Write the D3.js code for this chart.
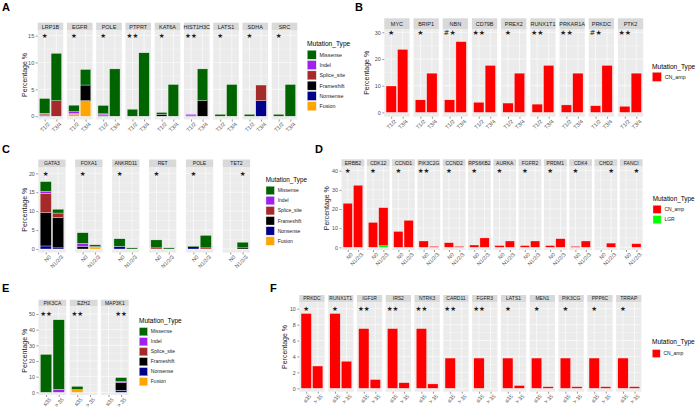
<!DOCTYPE html>
<html><head><meta charset="utf-8">
<script src="https://cdn.jsdelivr.net/npm/d3@7"></script>
<style>body{margin:0;background:#fff}svg{display:block;font-family:"Liberation Sans",Arial,sans-serif}</style>
</head><body><svg id="c" width="697" height="410"></svg>
<script>
// ---------- shared ----------
const mutTypes = ["Missense","Indel","Splice_site","Frameshift","Nonsense","Fusion"];
const mutColors = ["#006400","#A020F0","#A52A2A","#000000","#00008B","#FFA500"];
const cnTypes = ["CN_amp","LGR"];
const cnColors = ["#FF0000","#00FF00"];

// ---------- Panel A ----------
const genesA = ["LRP1B","EGFR","POLE","PTPRT","KAT6A","HIST1H3C","LATS1","SDHA","SRC"];
const groupsA = ["T1/2","T3/4"];
const starsA = ["*","*","*","**","*","**","*","*","*"];
const starPosA = [1,1,1,1,1,1,1,1,1];
const A_Missense   = [[2.75,8.8],[1.2,2.9],[1.55,8.8],[1.3,11.8],[0.35,5.9],[0,5.9],[0.35,5.9],[0.35,0],[0.35,5.9]];
const A_Indel      = [[0.15,0],[0.3,0],[0.15,0],[0,0],[0,0],[0.15,0],[0,0],[0,0],[0,0]];
const A_Splice     = [[0.25,2.9],[0.2,0],[0.1,0],[0,0],[0,0],[0,0],[0,0],[0,2.9],[0,0]];
const A_Frameshift = [[0,0],[0,2.9],[0,0],[0,0],[0.35,0],[0,2.9],[0,0],[0,0],[0,0]];
const A_Nonsense   = [[0.15,0],[0,0],[0.2,0],[0,0],[0,0],[0.2,0],[0,0],[0,2.9],[0,0]];
const A_Fusion     = [[0,0],[0.35,2.9],[0,0],[0,0],[0,0],[0,0],[0,0],[0,0],[0,0]];
const ticksA = [0,5,10,15];

// ---------- Panel B ----------
const genesB = ["MYC","BRIP1","NBN","CD79B","PREX2","RUNX1T1","PRKAR1A","PRKDC","PTK2"];
const groupsB = ["T1/2","T3/4"];
const starsB = ["*","*","#*","**","*","**","**","#*","**"];
const starPosB = [1,1,1,1,1,1,1,1,1];
const B_CNamp = [[9.9,23.6],[4.7,14.7],[4.7,26.5],[3.8,17.6],[3.5,14.7],[3.1,17.6],[2.8,14.7],[2.5,17.6],[2.3,14.7]];
const ticksB = [0,10,20,30];

// ---------- Panel C ----------
const genesC = ["GATA3","FOXA1","ANKRD11","RET","POLE","TET2"];
const groupsC = ["N0","N1/2/3"];
const starsC = ["*","*","*","*","*","*"];
const starPosC = [1,1,1,1,1,2];
const C_Missense   = [[2.6,1.0],[2.8,0.4],[2.0,0.3],[2.1,0.3],[0.2,3.3],[0,1.5]];
const C_Indel      = [[0.5,0],[0.8,0],[0,0],[0,0],[0,0],[0,0]];
const C_Splice     = [[5.1,1.2],[0,0],[0,0],[0.3,0],[0,0.3],[0,0]];
const C_Frameshift = [[8.8,8.0],[0.7,0.2],[0,0],[0,0],[0,0],[0,0.3]];
const C_Nonsense   = [[0.8,0.3],[0,0],[0.7,0],[0,0],[0.6,0],[0,0]];
const C_Fusion     = [[0,0],[0,0.5],[0,0],[0,0],[0,0],[0,0]];
const ticksC = [0,5,10,15,20];

// ---------- Panel D ----------
const genesD = ["ERBB2","CDK12","CCND1","PIK3C2G","CCND2","RPS6KB2","AURKA","FGFR2","PRDM1","CDK4","CHD2","FANCI"];
const groupsD = ["N0","N1/2/3"];
const starsD = ["*","*","*","**","*","*","*","*","*","*","*","*"];
const starPosD = [1,1,1,1,1,1,1,1,1,1,2,2];
const D_CNamp = [[23.0,32.4],[13.0,19.9],[8.3,14.1],[3.3,0.5],[2.4,0.5],[1.2,4.9],[0.9,3.3],[0.9,3.3],[0.9,4.5],[0.5,3.3],[0,2.2],[0,1.9]];
const D_LGR   = [[0,0],[0,0.8],[0,0],[0,0],[0,0],[0,0],[0,0],[0,0],[0,0],[0,0],[0,0],[0,0]];
const ticksD = [0,10,20,30,40];

// ---------- Panel E ----------
const genesE = ["PIK3CA","EZH2","MAP3K1"];
const groupsE = ["\u226435","> 35"];
const starsE = ["**","**","**"];
const starPosE = [1,1,2];
const E_Missense   = [[24.2,44.3],[1.8,0],[0,2.5]];
const E_Indel      = [[0,2.0],[0,0],[0,0.6]];
const E_Splice     = [[0,0],[0,0],[0,0]];
const E_Frameshift = [[0,0],[0.4,0],[0,5.0]];
const E_Nonsense   = [[0,0],[0,0],[0,1.3]];
const E_Fusion     = [[0,0],[1.6,0],[0,0]];
const ticksE = [0,10,20,30,40,50];

// ---------- Panel F ----------
const genesF = ["PRKDC","RUNX1T1","IGF1R","IRS2","NTRK3","CARD11","FGFR3","LATS1","MEN1","PIK3CG","PPP6C","TRRAP"];
const groupsF = ["\u226435","> 35"];
const starsF = ["*","*","**","**","**","**","**","*","*","*","*","*"];
const starPosF = [1,1,1,1,1,1,1,1,1,1,1,1];
const F_CNamp = [[9.4,2.8],[9.4,3.4],[7.5,1.1],[7.5,0.7],[7.5,0.55],[3.8,0],[3.8,0],[3.8,0.35],[3.8,0.2],[3.8,0.2],[3.8,0.2],[3.8,0.2]];
const ticksF = [0,2,4,6,8,10];

const svg = d3.select("#c");

function drawPanel(cfg){
  const g = svg.append("g");
  const px = d3.scaleLinear().domain([0,1]).range([cfg.left, cfg.left+cfg.pitch]);
  const xi = d3.scaleLinear().domain([0.4,2.6]).range([0,cfg.width]);
  const y = d3.scaleLinear().domain([0,cfg.refVal]).range([cfg.y0,cfg.refPx]);
  const minor = d3.pairs(cfg.ticks).map(p=>(p[0]+p[1])/2);
  const keys = cfg.series.map(s=>s.name).slice().reverse(); // bottom first
  const rows = [];
  cfg.genes.forEach((gn,i)=>cfg.groups.forEach((gr,k)=>{
    const r={gi:i,k:k+1};
    cfg.series.forEach(s=>{r[s.name]=s.values[i][k];});
    rows.push(r);
  }));
  const stacked = d3.stack().keys(keys)(rows);
  const colorOf = Object.fromEntries(cfg.series.map(s=>[s.name,s.color]));

  cfg.genes.forEach((gn,i)=>{
    const x0 = px(i);
    const pg = g.append("g").attr("transform",`translate(${x0},0)`);
    pg.append("rect").attr("x",0).attr("y",cfg.stripTop).attr("width",cfg.width)
      .attr("height",cfg.stripBottom-cfg.stripTop).attr("fill","#D9D9D9");
    pg.append("text").attr("x",cfg.width/2).attr("y",(cfg.stripTop+cfg.stripBottom)/2)
      .attr("dy","0.35em").attr("text-anchor","middle").attr("font-size",cfg.stripFont)
      .attr("fill","#1A1A1A").text(gn);
    pg.append("rect").attr("x",0).attr("y",cfg.stripBottom).attr("width",cfg.width)
      .attr("height",cfg.plotBottom-cfg.stripBottom).attr("fill","#EBEBEB");
    pg.selectAll(".mn").data(minor).join("line").attr("x1",0).attr("x2",cfg.width)
      .attr("y1",d=>y(d)).attr("y2",d=>y(d)).attr("stroke","#fff").attr("stroke-width",0.3);
    pg.selectAll(".mj").data(cfg.ticks).join("line").attr("x1",0).attr("x2",cfg.width)
      .attr("y1",d=>y(d)).attr("y2",d=>y(d)).attr("stroke","#fff").attr("stroke-width",0.6);
    pg.selectAll(".vx").data([1,2]).join("line").attr("x1",d=>xi(d)).attr("x2",d=>xi(d))
      .attr("y1",cfg.stripBottom).attr("y2",cfg.plotBottom).attr("stroke","#fff").attr("stroke-width",0.6);
    stacked.forEach(layer=>{
      layer.filter(d=>d.data.gi===i && d[1]-d[0]>0).forEach(d=>{
        pg.append("rect").attr("x",xi(d.data.k-0.45)).attr("width",xi(0.9)-xi(0))
          .attr("y",y(d[1])).attr("height",y(d[0])-y(d[1]))
          .attr("fill",colorOf[layer.key]).attr("stroke","#f2f2f2").attr("stroke-width",0.35);
      });
    });
    pg.append("text").attr("x",xi(cfg.starPos[i])).attr("y",y(cfg.starVal))
      .attr("dy","0.35em").attr("text-anchor","middle").attr("font-size",cfg.starFont)
      .attr("fill","#222").attr("font-family","DejaVu Sans")
      .text(cfg.stars[i].replace(/\*/g,"\u2605"));
    const ax = pg.append("g").attr("transform",`translate(0,${cfg.plotBottom})`)
      .call(d3.axisBottom(xi).tickValues([1,2]).tickFormat(d=>cfg.groups[d-1]).tickSize(2).tickPadding(1));
    ax.select(".domain").remove();
    ax.selectAll("line").attr("stroke","#333").attr("stroke-width",0.5);
    ax.selectAll("text").attr("font-size",cfg.tickFont).attr("fill","#4D4D4D")
      .attr("font-family","Liberation Sans, Arial, sans-serif")
      .attr("text-anchor","end").attr("dy","0.5em")
      .attr("transform","translate(1,1) rotate(-45)");
  });
  const ya = g.append("g").attr("transform",`translate(${cfg.left},0)`)
    .call(d3.axisLeft(y).tickValues(cfg.ticks).tickSize(2).tickPadding(1.5));
  ya.select(".domain").remove();
  ya.selectAll("line").attr("stroke","#333").attr("stroke-width",0.5);
  ya.selectAll("text").attr("font-size",cfg.tickFont).attr("fill","#4D4D4D")
    .attr("font-family","Liberation Sans, Arial, sans-serif");
  const yc = (cfg.stripBottom+cfg.plotBottom)/2;
  g.append("text").attr("transform",`translate(${cfg.ylabX},${yc}) rotate(-90)`)
    .attr("text-anchor","middle").attr("font-size",cfg.ylabFont).attr("fill","#1A1A1A").text("Percentage %");
  g.append("text").attr("x",cfg.letterX).attr("y",cfg.letterY).attr("font-size",11)
    .attr("font-weight","bold").attr("fill","#000").text(cfg.letter);
  const L = cfg.legend;
  g.append("text").attr("x",L.x).attr("y",L.titleY).attr("font-size",L.titleFont).attr("fill","#000").text("Mutation_Type");
  cfg.series.forEach((s,j)=>{
    const ky = L.top + j*L.step;
    g.append("rect").attr("x",L.x).attr("y",ky).attr("width",L.size).attr("height",L.size).attr("fill","#F2F2F2");
    g.append("rect").attr("x",L.x+0.3).attr("y",ky+0.3).attr("width",L.size-0.6).attr("height",L.size-0.6)
      .attr("fill",s.color).attr("stroke","#f2f2f2").attr("stroke-width",0.35);
    g.append("text").attr("x",L.x+L.size+3).attr("y",ky+L.size/2).attr("dy","0.35em")
      .attr("font-size",L.labFont).attr("fill","#1A1A1A").text(s.name);
  });
}

function mutSeries(arrs){ return mutTypes.map((t,i)=>({name:t,color:mutColors[i],values:arrs[i]})); }

drawPanel({letter:"A",letterX:2,letterY:11,genes:genesA,groups:groupsA,stars:starsA,starPos:starPosA,starVal:15,
  series:mutSeries([A_Missense,A_Indel,A_Splice,A_Frameshift,A_Nonsense,A_Fusion]),
  left:37.7,pitch:29.25,width:25.6,stripTop:22.7,stripBottom:30.5,plotBottom:119.5,
  y0:116.2,refVal:15,refPx:35.6,ticks:ticksA,ylabX:27,ylabFont:7,stripFont:5.5,tickFont:5.5,starFont:6.5,
  legend:{x:307,titleY:46,top:50,step:10.3,size:9.5,titleFont:6.6,labFont:5.3}});

drawPanel({letter:"B",letterX:355,letterY:11,genes:genesB,groups:groupsB,stars:starsB,starPos:starPosB,starVal:30,
  series:[{name:"CN_amp",color:cnColors[0],values:B_CNamp}],
  left:384.3,pitch:29.2,width:25.3,stripTop:18.3,stripBottom:29,plotBottom:116.7,
  y0:112.4,refVal:30,refPx:32.3,ticks:ticksB,ylabX:369,ylabFont:7,stripFont:5.5,tickFont:5.5,starFont:7,
  legend:{x:652,titleY:68.5,top:72,step:10.3,size:9.7,titleFont:6.6,labFont:5.3}});

drawPanel({letter:"C",letterX:2,letterY:153,genes:genesC,groups:groupsC,stars:starsC,starPos:starPosC,starVal:20,
  series:mutSeries([C_Missense,C_Indel,C_Splice,C_Frameshift,C_Nonsense,C_Fusion]),
  left:38.3,pitch:36.9,width:27.3,stripTop:159.5,stripBottom:167,plotBottom:252.5,
  y0:249,refVal:20,refPx:173.3,ticks:ticksC,ylabX:27,ylabFont:7,stripFont:5,tickFont:5.3,starFont:6.5,
  legend:{x:265.7,titleY:182.3,top:186,step:10.1,size:9,titleFont:6.3,labFont:5}});

drawPanel({letter:"D",letterX:315,letterY:153,genes:genesD,groups:groupsD,stars:starsD,starPos:starPosD,starVal:40,
  series:[{name:"CN_amp",color:cnColors[0],values:D_CNamp},{name:"LGR",color:cnColors[1],values:D_LGR}],
  left:341.5,pitch:25.3,width:22.8,stripTop:159.3,stripBottom:166.5,plotBottom:250,
  y0:247.3,refVal:40,refPx:170.7,ticks:ticksD,ylabX:329,ylabFont:7,stripFont:5,tickFont:5.3,starFont:6.5,
  legend:{x:652.7,titleY:200.6,top:205,step:10.3,size:8.7,titleFont:6.4,labFont:5}});

drawPanel({letter:"E",letterX:2,letterY:292,genes:genesE,groups:groupsE,stars:starsE,starPos:starPosE,starVal:50,
  series:mutSeries([E_Missense,E_Indel,E_Splice,E_Frameshift,E_Nonsense,E_Fusion]),
  left:38.5,pitch:31.2,width:27.8,stripTop:299.7,stripBottom:306.5,plotBottom:395,
  y0:392.3,refVal:50,refPx:314,ticks:ticksE,ylabX:27,ylabFont:7,stripFont:5,tickFont:5.3,starFont:6.5,
  legend:{x:139,titleY:323,top:327.3,step:10,size:8.8,titleFont:6.5,labFont:5}});

drawPanel({letter:"F",letterX:270,letterY:292,genes:genesF,groups:groupsF,stars:starsF,starPos:starPosF,starVal:10,
  series:[{name:"CN_amp",color:cnColors[0],values:F_CNamp}],
  left:299.3,pitch:28.8,width:25.3,stripTop:295,stripBottom:302.3,plotBottom:391.7,
  y0:388.3,refVal:10,refPx:308.7,ticks:ticksF,ylabX:287,ylabFont:7,stripFont:5,tickFont:5.3,starFont:6.5,
  legend:{x:652,titleY:344,top:349.3,step:10.3,size:8.5,titleFont:6.5,labFont:5}});
</script></body></html>
